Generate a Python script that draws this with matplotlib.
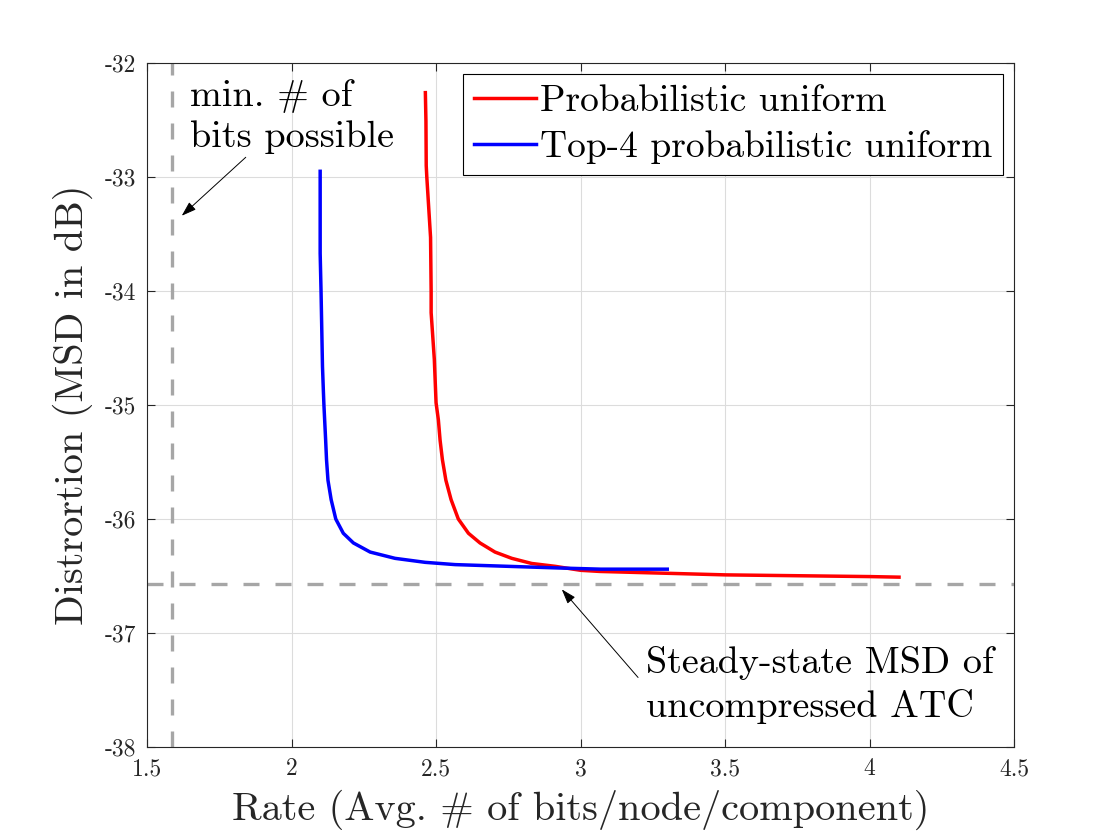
import matplotlib
matplotlib.use("Agg")
import matplotlib.pyplot as plt

plt.rcParams['font.family'] = ['cmr10', 'DejaVu Sans']
plt.rcParams['mathtext.fontset'] = 'cm'
plt.rcParams['axes.unicode_minus'] = False

# rate (bits/node/component) vs distortion (dB)
prob_rate = [2.463, 2.465, 2.466, 2.468, 2.481, 2.483, 2.483, 2.494, 2.500, 2.508,
             2.514, 2.522, 2.534, 2.552, 2.577, 2.612, 2.652, 2.704, 2.762, 2.831,
             2.912, 3.000, 3.067, 3.500, 4.000, 4.102]
prob_msd = [-32.26, -32.51, -32.90, -33.00, -33.53, -34.00, -34.19, -34.60, -34.98, -35.13,
            -35.31, -35.48, -35.66, -35.83, -36.00, -36.125, -36.21, -36.29, -36.345, -36.39,
            -36.415, -36.45, -36.46, -36.49, -36.505, -36.51]

top4_rate = [2.099, 2.099, 2.102, 2.107, 2.110, 2.112, 2.118, 2.121, 2.126, 2.137,
             2.153, 2.179, 2.214, 2.272, 2.358, 2.462, 2.566, 2.930, 3.070, 3.300]
top4_msd = [-32.95, -33.67, -34.00, -34.66, -34.87, -35.00, -35.31, -35.48, -35.66, -35.83,
            -36.00, -36.125, -36.21, -36.29, -36.345, -36.38, -36.40, -36.43, -36.44, -36.44]

min_bits = 1.585        # log2(3)
steady_msd = -36.57

x_ticks = [1.5, 2, 2.5, 3, 3.5, 4, 4.5]
y_ticks = [-38, -37, -36, -35, -34, -33, -32]

fig = plt.figure(figsize=(11.2, 8.4), dpi=100)
ax = fig.add_axes([0.1313, 0.1107, 0.7741, 0.8143])

ax.plot(prob_rate, prob_msd, color='red', lw=2.5, label='Probabilistic uniform')
ax.plot(top4_rate, top4_msd, color='blue', lw=2.5, label='Top-4 probabilistic uniform')

gray = '#a6a6a6'
ax.axvline(min_bits, color=gray, lw=2.4, dashes=(4.8, 4.8))
ax.axhline(steady_msd, color=gray, lw=2.4, dashes=(4.8, 4.8))

ax.set_xlim(1.5, 4.5)
ax.set_ylim(-38, -32)
ax.set_xticks(x_ticks)
ax.set_xticklabels([f'{v:g}' for v in x_ticks])
ax.set_yticks(y_ticks)
ax.set_yticklabels([f'{v:g}' for v in y_ticks])

dark = '#262626'
ax.tick_params(direction='in', top=True, right=True, length=6, width=0.8,
               labelsize=17, colors=dark, pad=8)
for s in ax.spines.values():
    s.set_color(dark)
    s.set_linewidth(0.8)
ax.grid(True, color='#dcdcdc', lw=0.8)
ax.set_axisbelow(True)

ax.set_xlabel('Rate (Avg. # of bits/node/component)', fontsize=29, color=dark, labelpad=7)
ax.set_ylabel('Distrortion (MSD in dB)', fontsize=29, color=dark, labelpad=8)

leg = ax.legend(loc='upper right', fontsize=27, handlelength=1.65, handletextpad=0.12,
                borderpad=0.28, labelspacing=0.33, borderaxespad=0.3, fancybox=False,
                framealpha=1, edgecolor='black')
leg.get_frame().set_linewidth(0.8)

arrow = dict(arrowstyle='-|>,head_length=0.9,head_width=0.3', color='black', lw=0.7,
             shrinkA=0, shrinkB=0)
ax.annotate('', xy=(1.62, -33.34), xytext=(1.8415, -32.827), arrowprops=arrow)
ax.text(1.65, -32.47, 'min. # of\nbits possible', fontsize=27.5, va='center', ha='left',
        linespacing=1.3)
ax.annotate('', xy=(2.935, -36.617), xytext=(3.199, -37.39), arrowprops=arrow)
ax.text(3.226, -37.456, 'Steady-state MSD of\nuncompressed ATC', fontsize=27.5,
        va='center', ha='left', linespacing=1.3)

fig.savefig('out.png', dpi=100)
